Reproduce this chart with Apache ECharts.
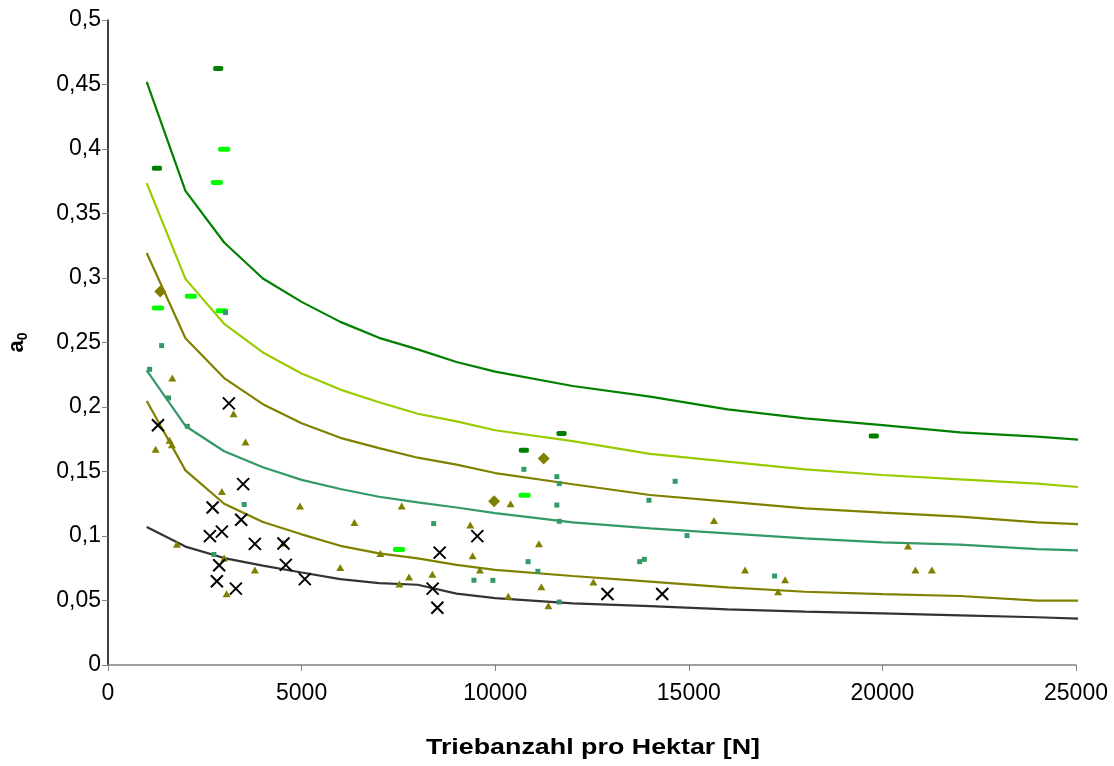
<!DOCTYPE html>
<html>
<head>
<meta charset="utf-8">
<script src="https://cdn.jsdelivr.net/npm/echarts@6/dist/echarts.min.js"></script>
<style>
  html, body { margin: 0; padding: 0; background: #fff; }
  #chart { width: 1114px; height: 766px; }
</style>
</head>
<body>
<div id="chart"></div>
<script>
// x positions of the curve nodes (shoots per hectare)
const nodesN = [1000, 2000, 3000, 4000, 5000, 6000, 7000, 8000, 9000, 10000,
  12000, 14000, 16000, 18000, 20000, 22000, 24000, 25250];

// curves, top to bottom
const curveDarkGreen = [0.452, 0.3675, 0.3275, 0.2996, 0.2815, 0.266, 0.2536, 0.2447, 0.2349, 0.2274,
  0.2163, 0.208, 0.1982, 0.1912, 0.186, 0.1804, 0.177, 0.1742];
const curveLime = [0.3735, 0.2993, 0.2645, 0.2423, 0.226, 0.2135, 0.2037, 0.1948, 0.1889, 0.182,
  0.1736, 0.1636, 0.1576, 0.1517, 0.1473, 0.1439, 0.1406, 0.1375];
const curveOliveHigh = [0.3194, 0.2533, 0.2224, 0.2022, 0.1874, 0.1761, 0.1681, 0.1607, 0.1553, 0.1488,
  0.1401, 0.1318, 0.1266, 0.1214, 0.1181, 0.115, 0.1106, 0.109];
const curveTeal = [0.2283, 0.1853, 0.1657, 0.1533, 0.1435, 0.1364, 0.1304, 0.126, 0.1221, 0.1177,
  0.1106, 0.1059, 0.1021, 0.0982, 0.0951, 0.0933, 0.0899, 0.0886];
const curveOliveLow = [0.2046, 0.1509, 0.125, 0.1108, 0.1013, 0.0924, 0.0865, 0.0826, 0.0776, 0.0737,
  0.069, 0.0646, 0.0602, 0.0568, 0.055, 0.0535, 0.0499, 0.0499];
const curveGrey = [0.107, 0.0918, 0.0829, 0.077, 0.0717, 0.0666, 0.0634, 0.0622, 0.0553, 0.0518,
  0.0478, 0.0457, 0.0431, 0.0413, 0.04, 0.0385, 0.037, 0.0357];

// measured points [N, a0]
const dashDark = [[1264, 0.385], [2846, 0.4625], [10740, 0.1664], [11713, 0.1795], [19778, 0.1775]];
const dashBright = [[3001, 0.3999], [2812, 0.374], [2141, 0.2859], [1290, 0.2767], [2941, 0.2746],
  [7516, 0.0895], [10759, 0.1315]];
const diamonds = [[1350, 0.2895], [9972, 0.127], [11253, 0.16]];
const tealDots = [[1075, 0.2292], [1385, 0.2476], [1565, 0.207], [2050, 0.185], [3036, 0.2732],
  [3518, 0.1244], [2735, 0.0857], [8411, 0.1096], [9451, 0.0657], [9940, 0.0656],
  [10741, 0.1517], [11592, 0.146], [11654, 0.1406], [11592, 0.124], [11654, 0.1114],
  [10849, 0.0801], [11102, 0.0726], [11654, 0.0488], [14647, 0.1424], [13971, 0.1277],
  [14954, 0.1003], [13731, 0.0801], [13852, 0.0819], [17216, 0.069]];
const triangles = [[1660, 0.2225], [1230, 0.1672], [1591, 0.1743], [1651, 0.1708], [3242, 0.1948],
  [3551, 0.1729], [1780, 0.0937], [2941, 0.1345], [3001, 0.083], [3062, 0.0553],
  [3793, 0.0736], [4958, 0.1233], [4528, 0.0943], [5998, 0.0756], [6364, 0.1105],
  [7035, 0.0865], [7585, 0.1233], [7525, 0.0628], [7774, 0.0682], [8377, 0.0703],
  [9357, 0.1085], [9417, 0.0847], [9606, 0.0737], [10397, 0.125], [11130, 0.094],
  [10338, 0.0532], [11192, 0.0607], [11373, 0.046], [12536, 0.0643], [15651, 0.1121],
  [16453, 0.0736], [17488, 0.0661], [17307, 0.0568], [20662, 0.0922], [20853, 0.0736],
  [21276, 0.0736]];
const crosses = [[1290, 0.1859], [3122, 0.2028], [3491, 0.1402], [2701, 0.1221], [3440, 0.1126],
  [2632, 0.0999], [2941, 0.1034], [3793, 0.0939], [4532, 0.0942], [2872, 0.0773],
  [4592, 0.0776], [2812, 0.0649], [3302, 0.0592], [5083, 0.0666], [9538, 0.0999],
  [8566, 0.0871], [8385, 0.0592], [8506, 0.0444], [12899, 0.055], [14314, 0.055]];

const xTicks = [0, 5000, 10000, 15000, 20000, 25000];
const xTitle = 'Triebanzahl pro Hektar [N]';

const chart = echarts.init(document.getElementById('chart'));

function curve(values, color) {
  return {
    type: 'line',
    data: nodesN.map((n, i) => [n, values[i]]),
    showSymbol: false,
    clip: false,
    lineStyle: { color: color, width: 2.2 },
    z: 2
  };
}

function points(data, symbol, size, color, extra) {
  return Object.assign({
    type: 'scatter',
    data: data,
    symbol: symbol,
    symbolSize: size,
    itemStyle: { color: color, opacity: 1 },
    z: 3
  }, extra || {});
}

const font = 'Liberation Sans, Arial, sans-serif';

chart.setOption({
  animation: false,
  backgroundColor: '#fff',
  grid: { left: 108, right: 38, top: 20, bottom: 101, outerBoundsMode: 'none', containLabel: false },
  // the x title is drawn a little wider than normal, like in the original
  graphic: [{
    type: 'text',
    x: 593,
    y: 748,
    scaleX: 1.22,
    style: {
      text: xTitle,
      font: 'bold 22px ' + font,
      fill: '#000',
      align: 'center',
      verticalAlign: 'middle'
    }
  }],
  xAxis: {
    type: 'value',
    min: 0,
    max: 25000,
    interval: 5000,
    axisLine: { lineStyle: { color: '#808080', width: 1.5 } },
    axisTick: { show: true, length: 6, lineStyle: { color: '#808080' } },
    axisLabel: {
      margin: 17,
      fontFamily: font,
      fontSize: 23,
      color: '#000',
      formatter: v => xTicks.includes(v) ? String(v) : ''
    },
    splitLine: { show: false }
  },
  yAxis: {
    type: 'value',
    min: 0,
    max: 0.5,
    interval: 0.05,
    name: '{a|a}{s|0}',
    nameLocation: 'middle',
    nameRotate: 90,
    nameGap: 78,
    nameTextStyle: {
      rich: {
        a: { fontFamily: font, fontSize: 22, fontWeight: 'bold', color: '#000' },
        s: { fontFamily: font, fontSize: 14, fontWeight: 'bold', color: '#000', padding: [12, 0, 0, 0] }
      }
    },
    axisLine: { show: true, lineStyle: { color: '#000', width: 1.5 } },
    axisTick: { show: true, length: 6, lineStyle: { color: '#808080' } },
    axisLabel: {
      margin: 7,
      fontFamily: font,
      fontSize: 23,
      color: '#000',
      formatter: v => String(Math.round(v * 100) / 100).replace('.', ',')
    },
    splitLine: { show: false }
  },
  series: [
    curve(curveDarkGreen, '#008000'),
    curve(curveLime, '#99CC00'),
    curve(curveOliveHigh, '#808000'),
    curve(curveTeal, '#339966'),
    curve(curveOliveLow, '#808000'),
    curve(curveGrey, '#333333'),
    points(dashDark, 'roundRect', [10, 5], '#008000'),
    points(dashBright, 'roundRect', [12, 5], '#00FF00'),
    points(diamonds, 'diamond', [12, 12], '#808000'),
    points(tealDots, 'rect', 5, '#339966'),
    points(triangles, 'triangle', [8, 7], '#808000'),
    points(crosses, 'path://M0,0L10,10M10,0L0,10', 12, '#000', {
      itemStyle: { color: '#000', borderColor: '#000', borderWidth: 2, opacity: 1 }
    })
  ]
});
</script>
</body>
</html>
